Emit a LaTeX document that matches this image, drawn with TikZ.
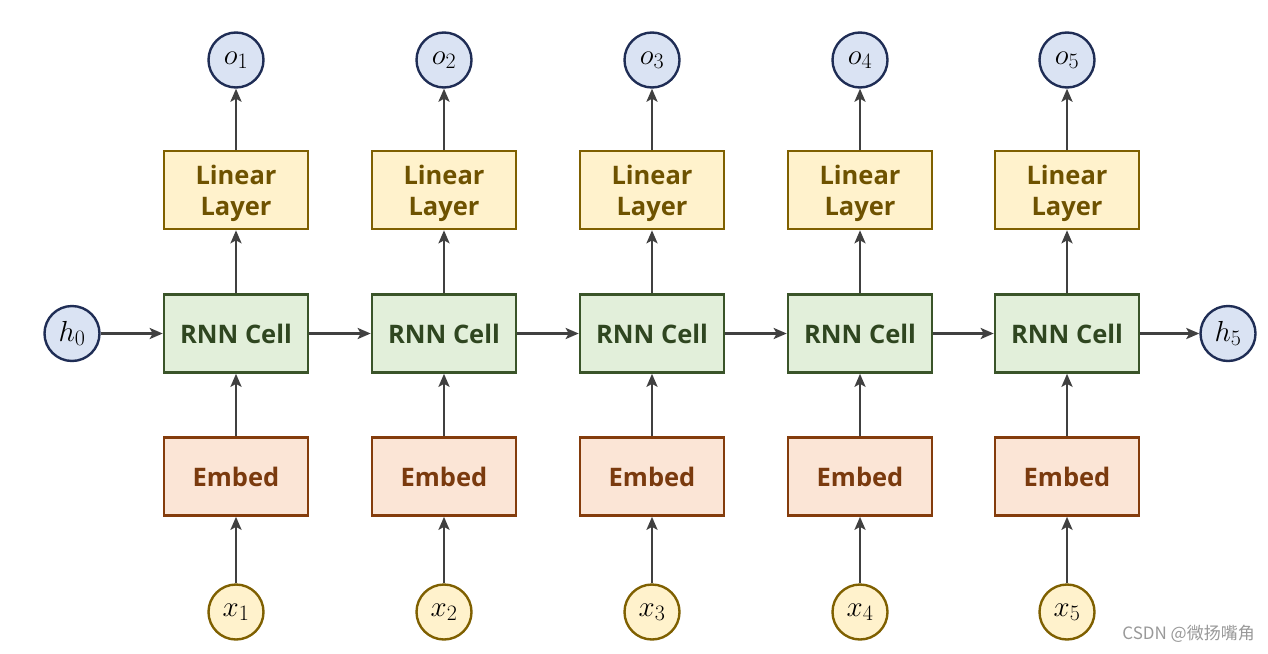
\documentclass[tikz,border=0pt]{standalone}
\usepackage{fix-cm}
\usepackage{fontspec}
\setsansfont{Open Sans}
\newfontfamily\cjk{Noto Sans CJK SC}
\DeclareMathSizes{29}{29}{22}{17}
\usetikzlibrary{arrows.meta}
\definecolor{linfill}{HTML}{FFF2CC}
\definecolor{lindraw}{HTML}{7F6000}
\definecolor{lintext}{HTML}{6E5200}
\definecolor{rnnfill}{HTML}{E2EFDA}
\definecolor{rnndraw}{HTML}{3A5429}
\definecolor{rnntext}{HTML}{2F4620}
\definecolor{embfill}{HTML}{FBE5D6}
\definecolor{embdraw}{HTML}{843C0C}
\definecolor{embtext}{HTML}{7A3A0E}
\definecolor{circblue}{HTML}{DAE3F3}
\definecolor{circnavy}{HTML}{1F2D55}
\definecolor{arrowgray}{HTML}{404040}
\tikzset{
  boxfont/.style={font=\sffamily\bfseries\fontsize{25.5}{31}\selectfont, align=center, inner sep=0pt},
  box/.style={rectangle, minimum width=144pt, minimum height=78pt, line width=2.6pt, boxfont},
  linbox/.style={box, fill=linfill, draw=lindraw, text=lintext},
  lintext/.style={boxfont, text=lintext},
  rnnbox/.style={box, fill=rnnfill, draw=rnndraw, text=rnntext},
  embbox/.style={box, fill=embfill, draw=embdraw, text=embtext},
  circ/.style={circle, minimum size=55pt, inner sep=0pt, line width=2.4pt,
    font=\fontsize{29}{29}\selectfont},
  bluecirc/.style={circ, fill=circblue, draw=circnavy},
  yelcirc/.style={circ, fill=linfill, draw=lindraw},
  conn/.style={draw=arrowgray, line width=2.6pt, -{Stealth[length=13pt,width=11pt,inset=3pt]}}
}
\begin{document}
\begin{tikzpicture}[x=1pt,y=-1pt]
\useasboundingbox (0,0) rectangle (1268,653);
\fill[white] (0,0) rectangle (1268,653);
\foreach \i/\cx in {1/236,2/444,3/652,4/860,5/1067}{
  \node[bluecirc] (o\i) at (\cx,60) {$o_{\i}$};
  \node[linbox] (L\i) at (\cx,190) {};
  \node[lintext] (Lt\i) at (\cx,193.5) {Linear\\Layer};
  \node[rnnbox] (R\i) at (\cx,333.5) {RNN Cell};
  \node[embbox] (E\i) at (\cx,476.5) {Embed};
  \node[yelcirc] (x\i) at (\cx,612) {$x_{\i}$};
  \draw[conn] (x\i) -- (E\i);
  \draw[conn] (E\i) -- (R\i);
  \draw[conn] (R\i) -- (L\i);
  \draw[conn] (L\i) -- (o\i);
}
\node[bluecirc] (h0) at (72,333.5) {$h_0$};
\node[bluecirc] (h5) at (1228,333.5) {$h_5$};
\draw[conn] (h0) -- (R1);
\draw[conn] (R1) -- (R2);
\draw[conn] (R2) -- (R3);
\draw[conn] (R3) -- (R4);
\draw[conn] (R4) -- (R5);
\draw[conn] (R5) -- (h5);
\node[anchor=east, text=gray!80, font=\cjk\fontsize{17}{17}\selectfont, inner sep=0pt] (wm) at (1255,634) {CSDN @微扬嘴角};
\end{tikzpicture}
\end{document}
